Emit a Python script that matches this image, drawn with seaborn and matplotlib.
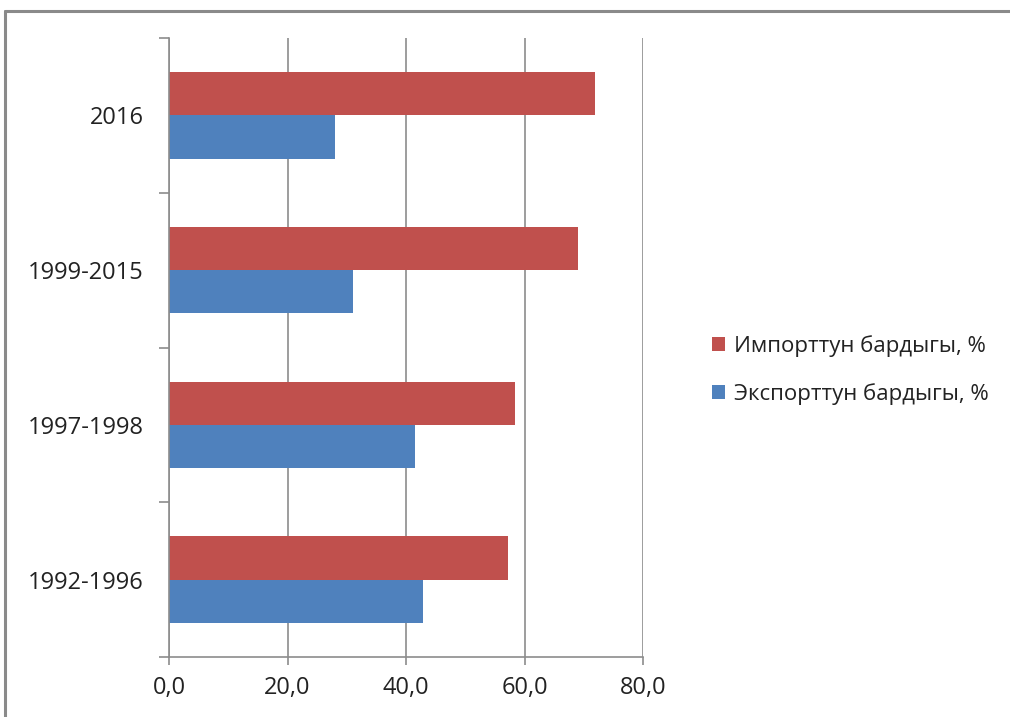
import matplotlib
matplotlib.use("Agg")
import matplotlib.pyplot as plt
import seaborn as sns
import pandas as pd
from matplotlib.lines import Line2D
from matplotlib.patches import Patch

categories = ["2016", "1999-2015", "1997-1998", "1992-1996"]
import_share = [71.9, 69.0, 58.4, 57.2]
export_share = [28.1, 31.0, 41.6, 42.8]
series_names = ["Импорттун бардыгы, %", "Экспорттун бардыгы, %"]
xticks = [0, 20, 40, 60, 80]
xtick_labels = ["0,0", "20,0", "40,0", "60,0", "80,0"]

colors = ["#C0504D", "#4F81BD"]

df = pd.DataFrame({
    "period": categories * 2,
    "value": import_share + export_share,
    "series": [series_names[0]] * len(categories) + [series_names[1]] * len(categories),
})

sns.set_theme(style="white")
plt.rcParams["font.family"] = ["Open Sans", "DejaVu Sans"]

fig = plt.figure(figsize=(10.10, 7.17), dpi=100)
ax = fig.add_axes([169 / 1010, 1 - 657 / 717, (643 - 169) / 1010, (657 - 38) / 717])

sns.barplot(data=df, x="value", y="period", hue="series", order=categories,
            hue_order=series_names, palette=colors, orient="h", width=0.56,
            saturation=1, ax=ax, legend=False, linewidth=0)

grid_c = "#8C8C8C"
ax.set_xlim(0, 80)
ax.set_ylim(3.5, -0.5)
ax.set_xticks(xticks)
ax.set_xticklabels(xtick_labels)
ax.set_xlabel("")
ax.set_ylabel("")
ax.xaxis.grid(True, color=grid_c, linewidth=1.2)
ax.yaxis.grid(False)
ax.set_axisbelow(True)
for s in ["top", "right"]:
    ax.spines[s].set_visible(False)
for s in ["left", "bottom"]:
    ax.spines[s].set_color(grid_c)
    ax.spines[s].set_linewidth(1.2)

ax.tick_params(axis="x", which="major", bottom=True, length=6, width=1.2,
               color=grid_c, labelsize=17, pad=8, labelcolor="#222222")
ax.set_yticks([-0.5, 0.5, 1.5, 2.5, 3.5], minor=True)
ax.tick_params(axis="y", which="minor", left=True, length=7, width=1.2, color=grid_c)
ax.tick_params(axis="y", which="major", left=False, length=0, labelsize=17,
               pad=18, labelcolor="#222222")

handles = [Patch(facecolor=c, edgecolor="none") for c in colors]
fig.legend(handles, series_names, loc="center left", bbox_to_anchor=(0.705, 0.484),
           frameon=False, fontsize=16, handlelength=0.6, handleheight=0.6,
           handletextpad=0.4, labelspacing=1.2, labelcolor="#222222",
           borderaxespad=0, borderpad=0)

# outer frame of the screenshot
fig.add_artist(Line2D([5 / 1010, 1.0], [1 - 11 / 717, 1 - 11 / 717], color="#8A8A8A",
                      linewidth=2.2, transform=fig.transFigure))
fig.add_artist(Line2D([5 / 1010, 5 / 1010], [0.0, 1 - 11 / 717], color="#8A8A8A",
                      linewidth=2.2, transform=fig.transFigure))

fig.savefig("out.png", dpi=100)
